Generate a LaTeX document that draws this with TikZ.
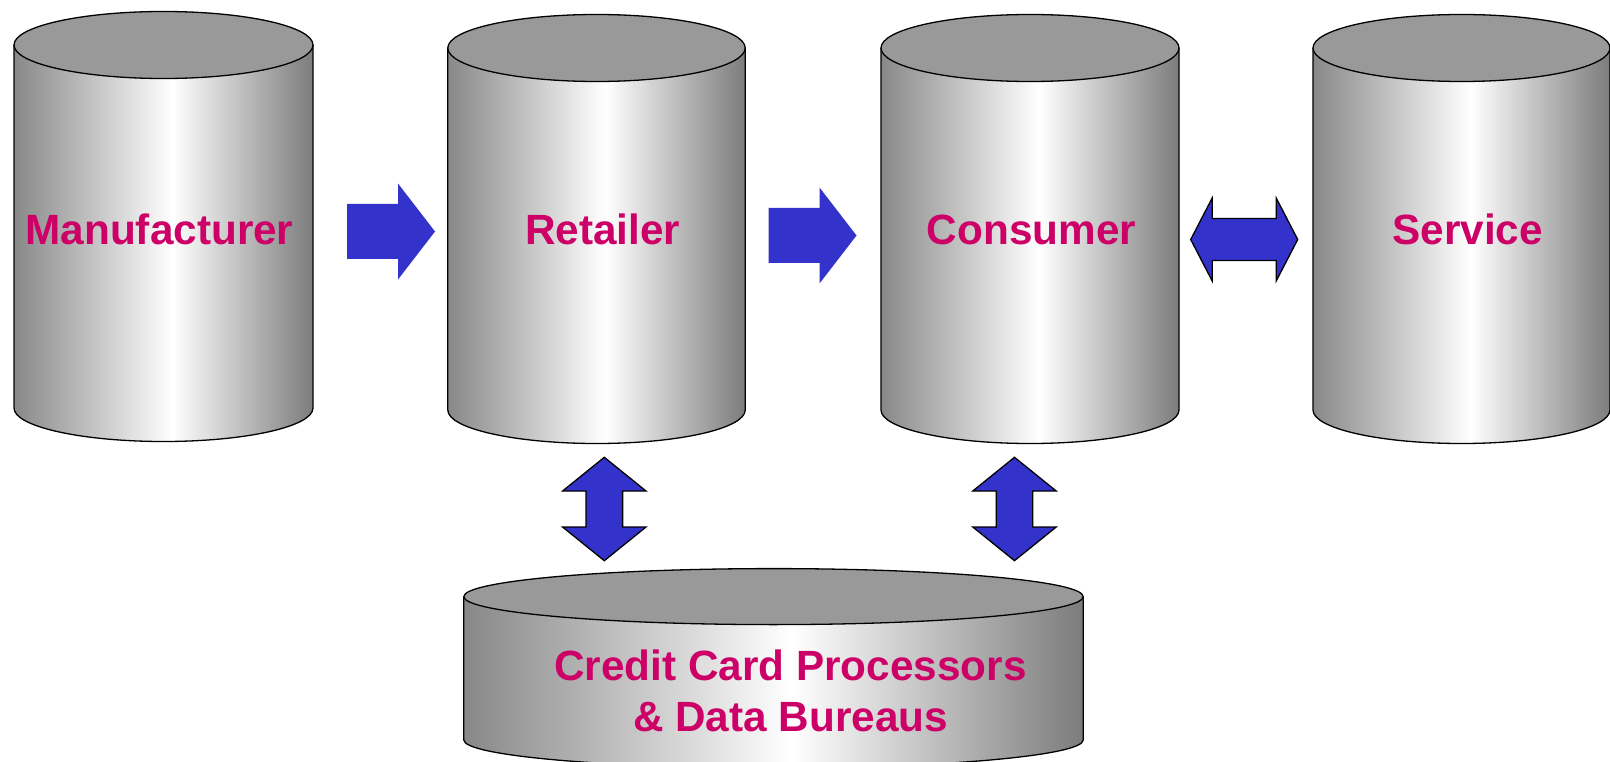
\documentclass[tikz,border=0pt]{standalone}
\usepackage{fontspec}
\setmainfont{Liberation Sans}
\definecolor{textmag}{RGB}{204,0,102}
\definecolor{arrowblue}{RGB}{51,51,204}
\definecolor{topgray}{RGB}{153,153,153}
\definecolor{sideL}{RGB}{136,136,136}
\definecolor{sideR}{RGB}{124,124,124}
\pgfdeclarehorizontalshading{cylshade}{100bp}{color(0bp)=(sideL); color(25bp)=(sideL); color(51.5bp)=(white); color(75bp)=(sideR); color(100bp)=(sideR)}
\newcommand\mycyl[5]{%
  \path[shading=cylshade] ({#1-#4},#2) -- ({#1-#4},#3) arc[start angle=180,end angle=0,x radius=#4,y radius=#5] -- ({#1+#4},#2) -- cycle;
  \draw[cylline] ({#1-#4},#2) -- ({#1-#4},#3) arc[start angle=180,end angle=0,x radius=#4,y radius=#5] -- ({#1+#4},#2);
  \draw[cylline,fill=topgray] (#1,#2) ellipse[x radius=#4,y radius=#5];
}
\begin{document}
\begin{tikzpicture}[x=1pt,y=-1pt,
  cylline/.style={draw=black,line width=1.3pt},
  lbl/.style={font=\fontsize{42.3}{51}\selectfont\bfseries,text=textmag,inner sep=0pt},
  rarrow/.pic={\fill[arrowblue] (-44,-27.5) -- (7,-27.5) -- (7,-48) -- (44,0) -- (7,48) -- (7,27.5) -- (-44,27.5) -- cycle;},
  hdarrow/.pic={\filldraw[fill=arrowblue,draw=black,line width=1.3pt,line join=miter] (-53.5,0) -- (-32,-41.5) -- (-32,-21) -- (32,-21) -- (32,-41.5) -- (53.5,0) -- (32,41.5) -- (32,21) -- (-32,21) -- (-32,41.5) -- cycle;},
  vdarrow/.pic={\filldraw[fill=arrowblue,draw=black,line width=1.3pt,line join=miter] (0,-51.7) -- (41.7,-18) -- (18.3,-18) -- (18.3,18) -- (41.7,18) -- (0,51.7) -- (-41.7,18) -- (-18.3,18) -- (-18.3,-18) -- (-41.7,-18) -- cycle;}
]
\useasboundingbox (0,0) rectangle (1610,762);
\clip (0,0) rectangle (1610,762);
\fill[white] (0,0) rectangle (1610,762);

% cylinders
\mycyl{163.5}{45}{408}{149.5}{33.5}
\mycyl{596.5}{48}{410}{148.7}{33.5}
\mycyl{1030}{48}{410}{149}{33.5}
\mycyl{1461.5}{48}{410}{148.5}{33.5}
\mycyl{773.5}{596.6}{740}{309.7}{28}

% labels
\node[lbl,anchor=base] (man) at (159.5,245) {Manufacturer};
\node[lbl,anchor=base] (ret) at (602.7,245) {Retailer};
\node[lbl,anchor=base] (con) at (1031.4,245) {Consumer};
\node[lbl,anchor=base] (ser) at (1467.7,245) {Service};
\node[lbl,align=center] (ccp) at (790.5,690.5) {Credit Card Processors\\\& Data Bureaus};

% arrows
\coordinate (a1) at (391,231.5);
\coordinate (a2) at (812.5,235.5);
\coordinate (a3) at (1244.2,239.5);
\coordinate (a4) at (604.3,509);
\coordinate (a5) at (1014.5,509);
\pic at (a1) {rarrow};
\pic at (a2) {rarrow};
\pic at (a3) {hdarrow};
\pic at (a4) {vdarrow};
\pic at (a5) {vdarrow};
\end{tikzpicture}
\end{document}
